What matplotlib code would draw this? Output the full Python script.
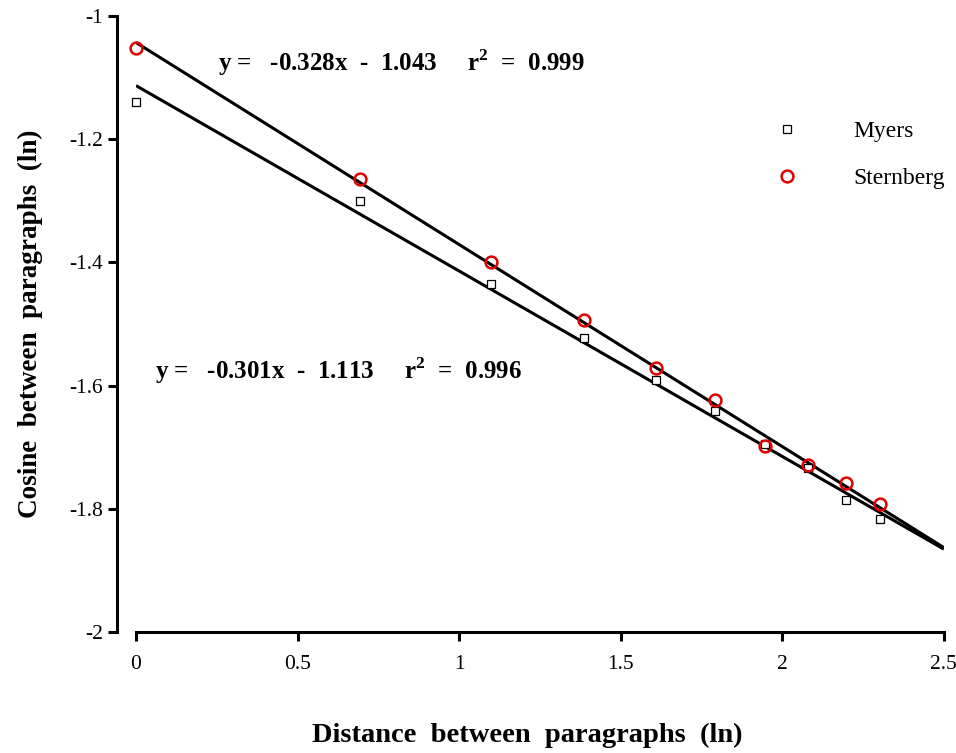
import numpy as np
import matplotlib
matplotlib.use("Agg")
import matplotlib.pyplot as plt

# ln(distance between paragraphs)
x_ln = [0.0, 0.693, 1.099, 1.386, 1.609, 1.792, 1.946, 2.079, 2.197, 2.303]
myers = [-1.140, -1.300, -1.435, -1.523, -1.591, -1.641, -1.695, -1.734, -1.786, -1.817]
sternberg = [-1.052, -1.265, -1.399, -1.494, -1.571, -1.623, -1.698, -1.729, -1.758, -1.792]

# regression fits (slope, intercept, r^2)
fit_sternberg = (-0.328, -1.043, 0.999)
fit_myers = (-0.301, -1.113, 0.996)

x_ticks = [0, 0.5, 1, 1.5, 2, 2.5]
x_ticklabels = ["0", "0.5", "1", "1.5", "2", "2.5"]
y_ticks = [-2, -1.8, -1.6, -1.4, -1.2, -1]
y_ticklabels = ["-2", "-1.8", "-1.6", "-1.4", "-1.2", "-1"]

plt.rcParams["font.family"] = ["Liberation Serif", "DejaVu Serif"]
plt.rcParams["mathtext.fontset"] = "custom"
plt.rcParams["mathtext.rm"] = "Liberation Serif"
plt.rcParams["mathtext.bf"] = "Liberation Serif:bold"

fig = plt.figure(figsize=(9.56, 7.53), dpi=100)
ax = fig.add_axes([0.1423, 0.1607, 0.845, 0.818])

red = "#e00000"
line_x = np.array([0.0, 2.5])
for slope, intercept, _ in (fit_sternberg, fit_myers):
    ax.plot(line_x, slope * line_x + intercept, color="black", lw=2.2,
            solid_capstyle="butt", zorder=2)

ax.plot(x_ln, myers, ls="none", marker="s", ms=5.5, mfc="white",
        mec="black", mew=0.9, label="Myers", zorder=3, clip_on=False)
ax.plot(x_ln, sternberg, ls="none", marker="o", ms=8.5, mfc="none",
        mec=red, mew=1.8, label="Sternberg", zorder=4, clip_on=False)

eq_fmt = "y =   {:.3f}x  -  {:.3f}     r$^{{\\mathbf{{2}}}}$  =  {:.3f}"
ax.text(0.253, -1.075, eq_fmt.format(fit_sternberg[0], -fit_sternberg[1], fit_sternberg[2]),
        fontsize=18, fontweight="bold", va="center", ha="left")
ax.text(0.059, -1.575, eq_fmt.format(fit_myers[0], -fit_myers[1], fit_myers[2]),
        fontsize=18, fontweight="bold", va="center", ha="left")

ax.set_xlim(0, 2.5)
ax.set_ylim(-2, -1)
ax.set_xticks(x_ticks)
ax.set_xticklabels(x_ticklabels)
ax.set_yticks(y_ticks)
ax.set_yticklabels(y_ticklabels)
ax.tick_params(direction="out", length=6.5, width=2.2, labelsize=15.5)
ax.tick_params(axis="x", pad=10)
ax.tick_params(axis="y", pad=4)

for side in ("top", "right"):
    ax.spines[side].set_visible(False)
ax.spines["left"].set_position(("outward", 13.5))
for side in ("left", "bottom"):
    ax.spines[side].set_linewidth(2.2)
ax.patch.set_visible(False)

ax.set_xlabel("Distance  between  paragraphs  (ln)", fontsize=20.5,
              fontweight="bold")
ax.xaxis.set_label_coords(0.484, -0.147)
ax.set_ylabel("Cosine  between  paragraphs  (ln)", fontsize=19.5,
              fontweight="bold", labelpad=18.5)

ax.legend(loc="upper left", bbox_to_anchor=(0.765, 0.865), frameon=False,
          fontsize=17, handletextpad=2.3, labelspacing=1.1,
          handlelength=1.0)

fig.savefig("out.png", dpi=100)
